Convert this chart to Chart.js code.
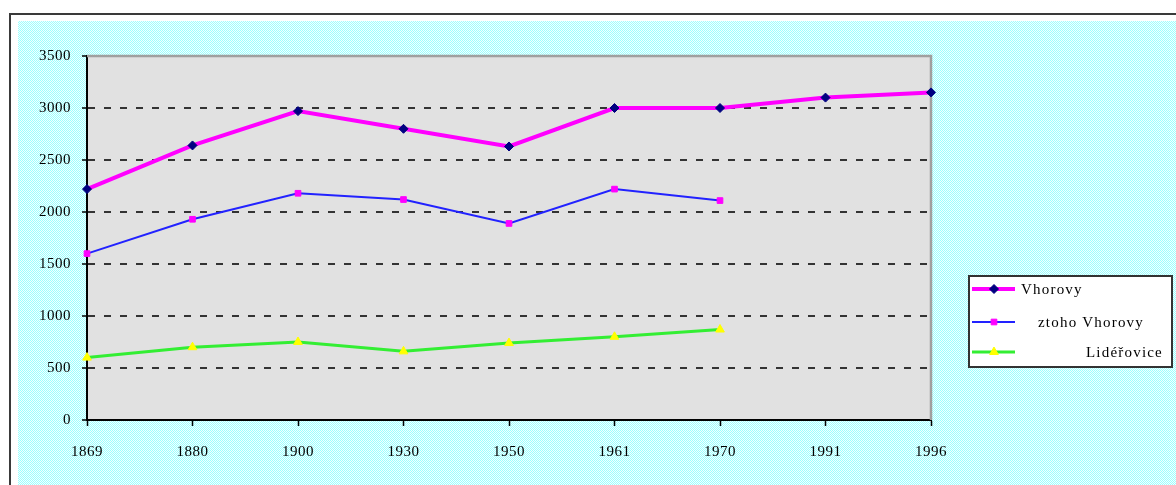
<!DOCTYPE html>
<html>
<head>
<meta charset="utf-8">
<script src="https://cdn.jsdelivr.net/npm/chart.js@4/dist/chart.umd.min.js"></script>
<style>
  html, body { margin: 0; padding: 0; background: #fff; }
  #wrap { width: 1176px; height: 485px; }
</style>
</head>
<body>
<div id="wrap"><canvas id="chart" width="1176" height="485"></canvas></div>
<script>
/* data */
const years = ['1869', '1880', '1900', '1930', '1950', '1961', '1970', '1991', '1996'];
const vhorovy = [2220, 2640, 2970, 2800, 2630, 3000, 3000, 3100, 3150];
const ztohoVhorovy = [1600, 1930, 2180, 2120, 1890, 2220, 2110, null, null];
const liderovice = [600, 700, 750, 660, 740, 800, 870, null, null];
const seriesNames = ['Vhorovy', 'ztoho Vhorovy', 'Lidéřovice'];
const yTicks = [0, 500, 1000, 1500, 2000, 2500, 3000, 3500];

const SERIF = '"Liberation Serif", "DejaVu Serif", serif';

/* cyan dotted fill, like the old spreadsheet background */
function makePattern() {
  const p = document.createElement('canvas');
  p.width = 2; p.height = 2;
  const c = p.getContext('2d');
  c.fillStyle = '#f4ffff';
  c.fillRect(0, 0, 2, 2);
  c.fillStyle = '#9cffff';
  c.fillRect(0, 0, 1, 1);
  c.fillRect(1, 1, 1, 1);
  return c.createPattern(p, 'repeat');
}

const framePlugin = {
  id: 'frame',
  beforeDraw(chart) {
    const { ctx, chartArea: a } = chart;
    ctx.save();
    ctx.fillStyle = '#fff';
    ctx.fillRect(0, 0, chart.width, chart.height);
    // outer border
    ctx.strokeStyle = '#3a3a3a';
    ctx.lineWidth = 2;
    ctx.strokeRect(10, 14, chart.width + 20, chart.height + 20);
    // cyan area
    ctx.fillStyle = makePattern();
    ctx.fillRect(18, 21, chart.width - 18, chart.height - 21);
    // plot area
    ctx.fillStyle = '#e1e1e1';
    ctx.fillRect(a.left, a.top, a.right - a.left, a.bottom - a.top);
    ctx.restore();
    ctx.letterSpacing = '0.5px';
  },
  beforeDatasetsDraw(chart) {
    const { ctx, chartArea: a } = chart;
    ctx.save();
    ctx.strokeStyle = '#a0a0a0';
    ctx.lineWidth = 2.5;
    ctx.beginPath();
    ctx.moveTo(a.left, a.top);
    ctx.lineTo(a.right, a.top);
    ctx.lineTo(a.right, a.bottom);
    ctx.stroke();
    ctx.restore();
  }
};

/* legend box drawn by hand to sit like the original */
const legendPlugin = {
  id: 'boxLegend',
  afterDraw(chart) {
    const { ctx } = chart;
    const box = { x: 969, y: 276, w: 203, h: 91 };
    const rows = [
      { y: 289, textX: 1021 },
      { y: 322, textX: 1038 },
      { y: 352, textX: 1086 }
    ];
    ctx.save();
    ctx.fillStyle = '#fff';
    ctx.fillRect(box.x, box.y, box.w, box.h);
    ctx.strokeStyle = '#333';
    ctx.lineWidth = 2;
    ctx.strokeRect(box.x, box.y, box.w, box.h);
    chart.data.datasets.forEach((ds, i) => {
      const r = rows[i];
      ctx.strokeStyle = ds.borderColor;
      ctx.lineWidth = ds.borderWidth;
      ctx.beginPath();
      ctx.moveTo(972, r.y);
      ctx.lineTo(1015, r.y);
      ctx.stroke();
      ctx.fillStyle = ds.pointBackgroundColor;
      ctx.strokeStyle = ds.pointBorderColor;
      ctx.lineWidth = 1;
      Chart.helpers.drawPoint(ctx, {
        pointStyle: ds.pointStyle, radius: ds.pointRadius, borderWidth: 1
      }, 994, r.y);
      ctx.fillStyle = '#000';
      ctx.font = '15px ' + SERIF;
      ctx.letterSpacing = '1.2px';
      ctx.textBaseline = 'middle';
      ctx.textAlign = 'left';
      ctx.fillText(ds.label, r.textX, r.y + 1);
    });
    ctx.restore();
  }
};

new Chart(document.getElementById('chart'), {
  type: 'line',
  data: {
    labels: years,
    datasets: [{
      label: seriesNames[0],
      data: vhorovy,
      borderColor: '#ff00ff',
      borderWidth: 4,
      pointStyle: 'rectRot',
      pointRadius: 4.5,
      pointBackgroundColor: '#000080',
      pointBorderColor: '#000080',
      pointBorderWidth: 1,
      tension: 0
    }, {
      label: seriesNames[1],
      data: ztohoVhorovy,
      borderColor: '#2222ff',
      borderWidth: 2,
      pointStyle: 'rect',
      pointRadius: 4,
      pointBackgroundColor: '#ff00ff',
      pointBorderColor: '#ff00ff',
      pointBorderWidth: 1,
      tension: 0
    }, {
      label: seriesNames[2],
      data: liderovice,
      borderColor: '#33ee33',
      borderWidth: 3,
      pointStyle: 'triangle',
      pointRadius: 5,
      pointBackgroundColor: '#ffff00',
      pointBorderColor: '#ffff00',
      pointBorderWidth: 1,
      tension: 0
    }]
  },
  options: {
    responsive: false,
    animation: false,
    events: [],
    layout: { padding: { left: 0, top: 56, right: 245, bottom: 0 } },
    plugins: { legend: { display: false }, tooltip: { enabled: false } },
    scales: {
      x: {
        type: 'category',
        offset: false,
        afterFit: s => { s.height = 65; },
        grid: { drawOnChartArea: false, drawTicks: true, tickLength: 6, tickColor: '#000', tickWidth: 1.5 },
        border: { display: true, color: '#000', width: 2 },
        ticks: { color: '#000', font: { family: SERIF, size: 15 }, padding: 17, maxRotation: 0, autoSkip: false }
      },
      y: {
        min: 0,
        max: 3500,
        afterFit: s => { s.width = 87; },
        afterBuildTicks: s => { s.ticks = yTicks.map(v => ({ value: v })); },
        grid: {
          color: c => (c.tick && (c.tick.value === 0 || c.tick.value === 3500)) ? 'rgba(0,0,0,0)' : '#333',
          lineWidth: 2,
          drawTicks: true,
          tickLength: 5,
          tickColor: '#000',
          tickWidth: 1.5
        },
        border: { display: true, color: '#000', width: 2, dash: [7, 9] },
        ticks: { color: '#000', font: { family: SERIF, size: 15 }, padding: 11, callback: v => String(v) }
      }
    }
  },
  plugins: [framePlugin, legendPlugin]
});
</script>
</body>
</html>
